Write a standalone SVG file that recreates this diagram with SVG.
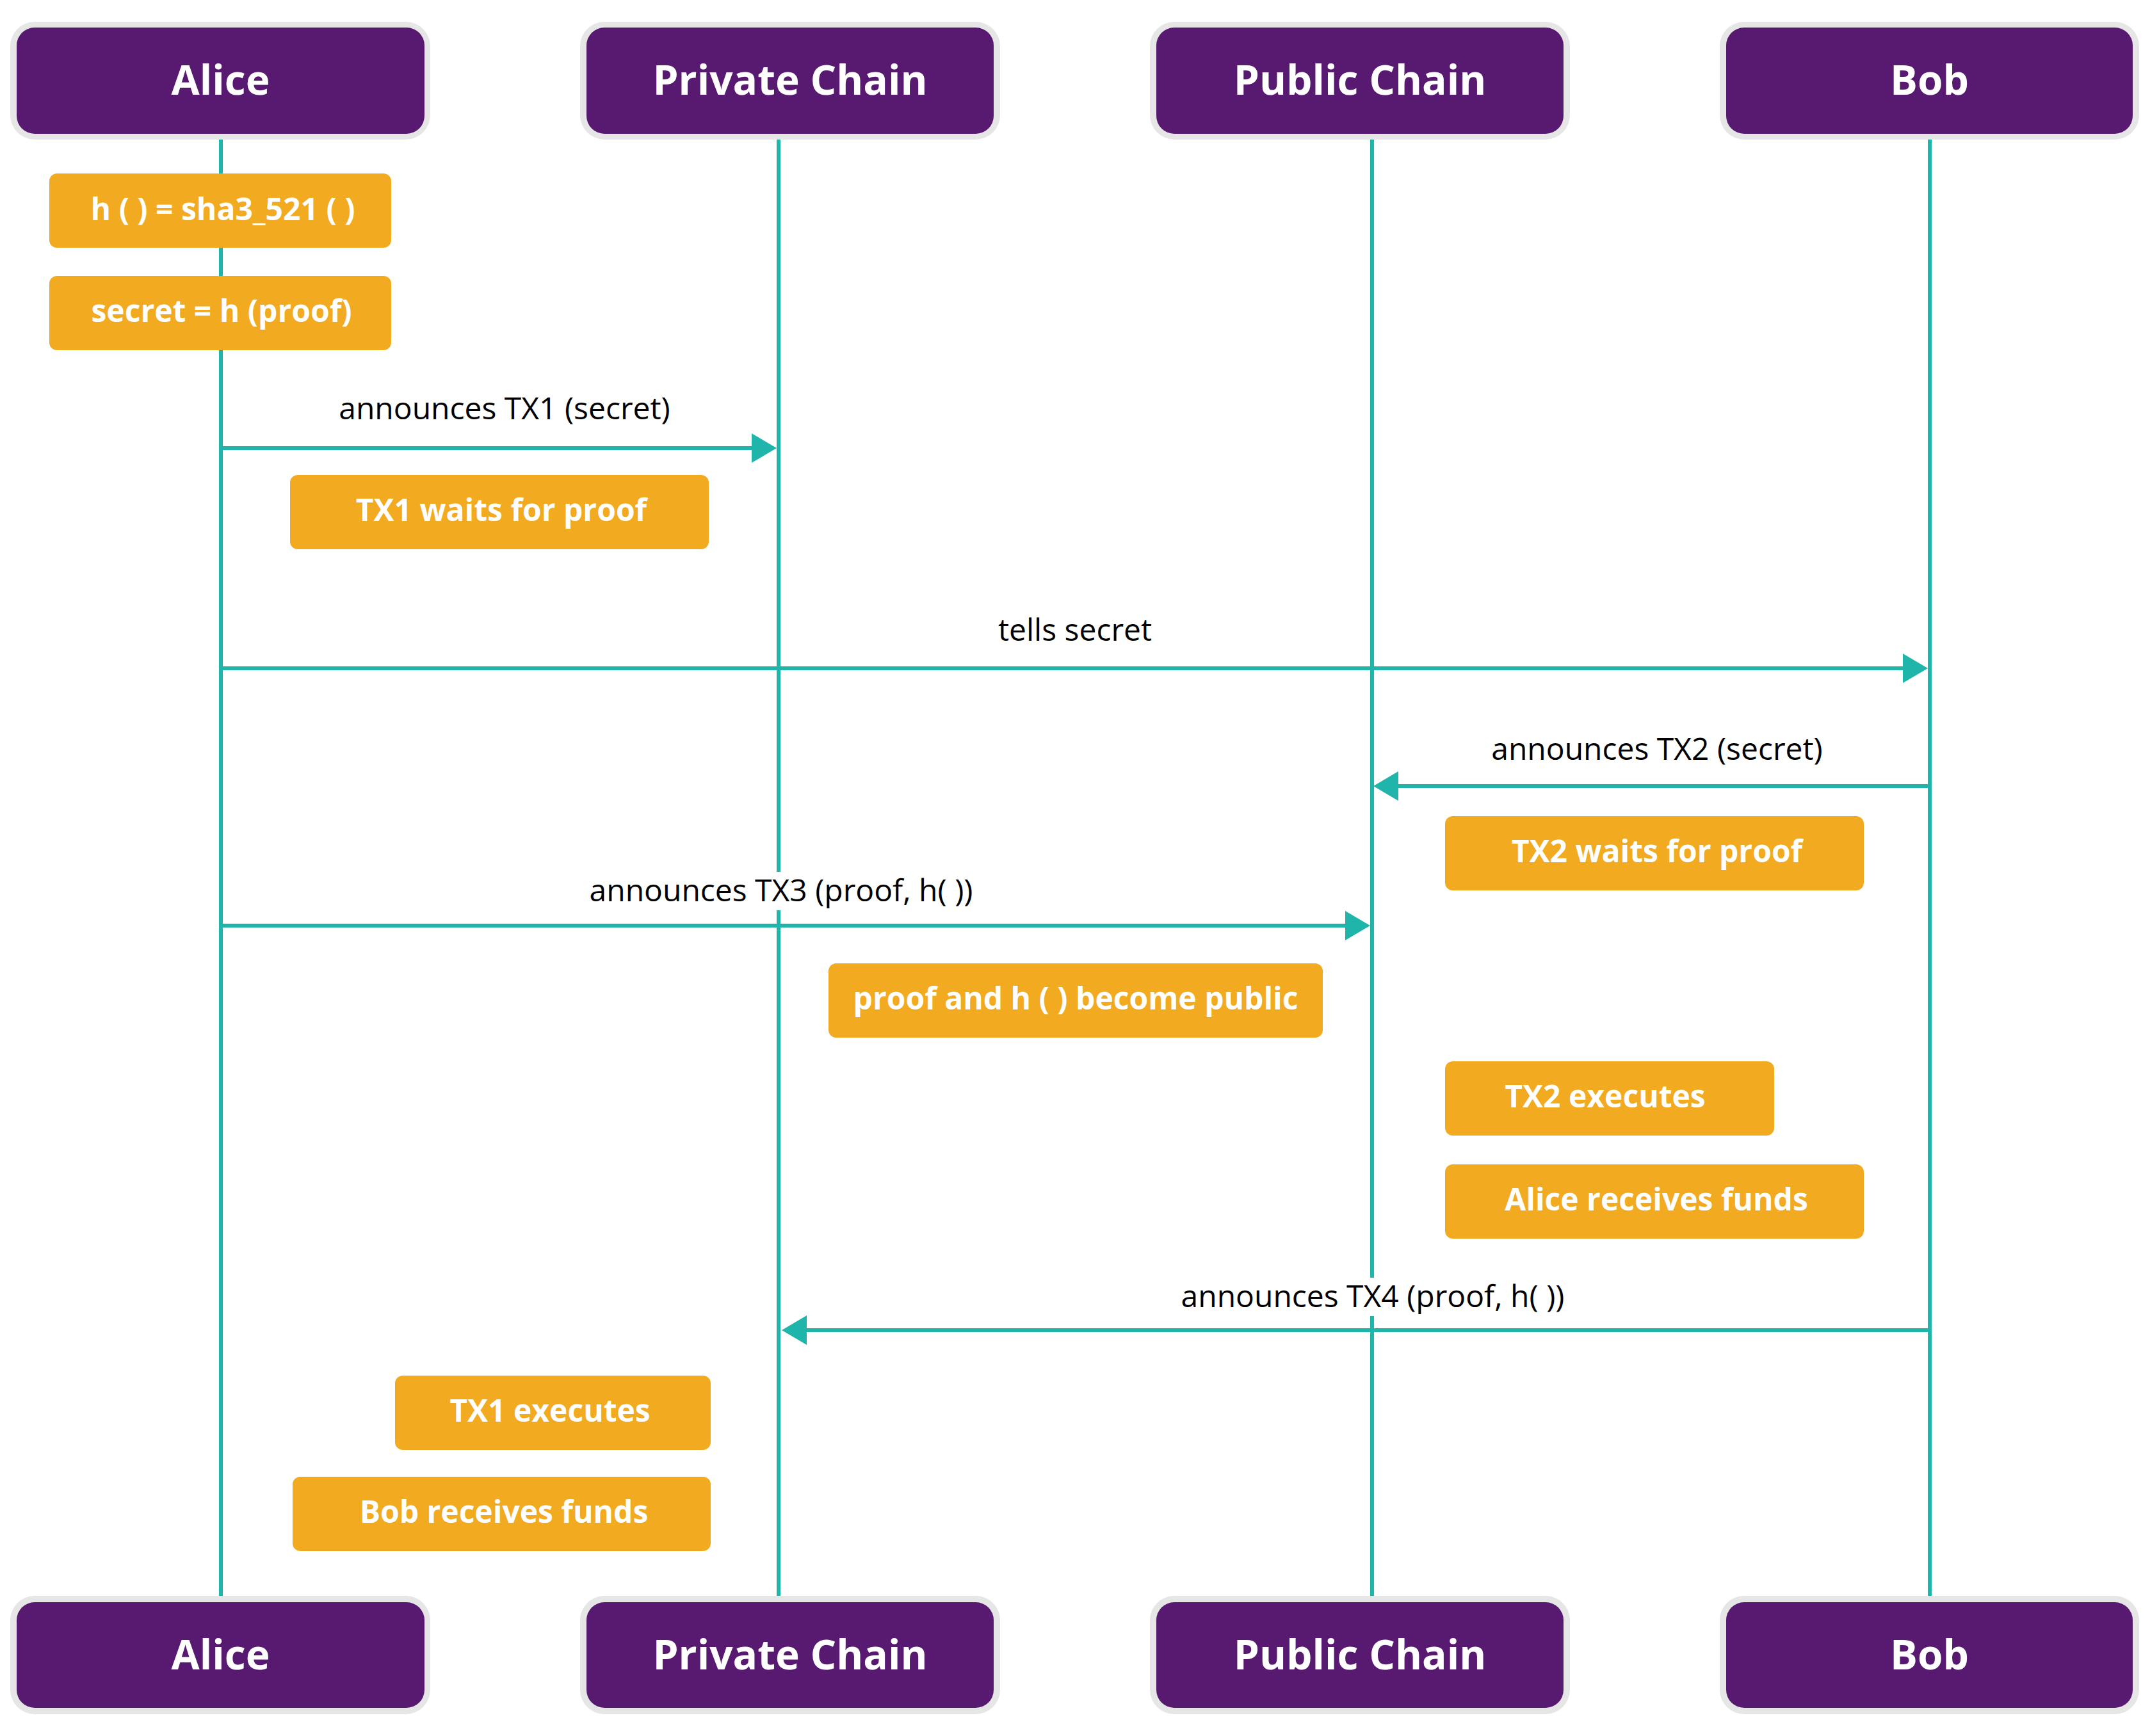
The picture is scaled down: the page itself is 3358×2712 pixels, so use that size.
<svg xmlns="http://www.w3.org/2000/svg" width="3358" height="2712" viewBox="0 0 3358 2712">
<defs>
<style>
.hdr-out{fill:#e6e6e6}
.hdr-in{fill:#581a70}
.hdr-txt{font-family:"Open Sans","Liberation Sans",sans-serif;font-weight:700;font-size:64px;fill:#ffffff;text-anchor:middle}
.note{fill:#f2aa20}
.note-txt{font-family:"Open Sans","Liberation Sans",sans-serif;font-weight:700;font-size:48px;fill:#ffffff;text-anchor:middle}
.life{stroke:#20b5aa;stroke-width:6;fill:none}
.msg{stroke:#20b5aa;stroke-width:6;fill:none;marker-end:url(#arrow)}
.lbl-bg{fill:#ffffff}
.lbl{font-family:"Open Sans","Liberation Sans",sans-serif;font-size:48px;fill:#000000;text-anchor:middle}
</style>
<marker id="arrow" markerUnits="userSpaceOnUse" markerWidth="39" markerHeight="46" refX="0" refY="23" orient="auto" overflow="visible">
<path d="M0,0 L39,23 L0,46 Z" fill="#20b5aa"/>
</marker>
</defs>
<rect x="0" y="0" width="3358" height="2712" fill="#ffffff"/>

<g id="connectors">
<g id="lifelines">
<line class="life" x1="345" y1="218" x2="345" y2="2493"/>
<line class="life" x1="1216" y1="218" x2="1216" y2="2493"/>
<line class="life" x1="2143" y1="218" x2="2143" y2="2493"/>
<line class="life" x1="3014" y1="218" x2="3014" y2="2493"/>
</g>
<g id="msg1">
<line class="msg" x1="345" y1="700" x2="1174" y2="700"/>
<rect class="lbl-bg" x="520" y="609" width="536" height="60"/>
<text class="lbl" x="788" y="655">announces TX1 (secret)</text>
</g>
<g id="msg2">
<line class="msg" x1="345" y1="1044" x2="2972" y2="1044"/>
<rect class="lbl-bg" x="1550" y="955" width="258" height="60"/>
<text class="lbl" x="1679" y="1001">tells secret</text>
</g>
<g id="msg3">
<line class="msg" x1="3014" y1="1228" x2="2184" y2="1228"/>
<rect class="lbl-bg" x="2320" y="1141" width="536" height="60"/>
<text class="lbl" x="2588" y="1187">announces TX2 (secret)</text>
</g>
<g id="msg4">
<line class="msg" x1="345" y1="1446" x2="2101" y2="1446"/>
<rect class="lbl-bg" x="911" y="1362" width="618" height="60"/>
<text class="lbl" x="1220" y="1408">announces TX3 (proof, h( ))</text>
</g>
<g id="msg5">
<line class="msg" x1="3014" y1="2078" x2="1260" y2="2078"/>
<rect class="lbl-bg" x="1835" y="1996" width="618" height="60"/>
<text class="lbl" x="2144" y="2042">announces TX4 (proof, h( ))</text>
</g>
</g>

<g id="note1"><rect class="note" x="77" y="271" width="534" height="116" rx="12"/><text class="note-txt" x="348" y="344">h ( ) = sha3_521 ( )</text></g>
<g id="note2"><rect class="note" x="77" y="431" width="534" height="116" rx="12"/><text class="note-txt" x="346" y="503">secret = h (proof)</text></g>
<g id="note3"><rect class="note" x="453" y="742" width="654" height="116" rx="12"/><text class="note-txt" x="783" y="814">TX1 waits for proof</text></g>
<g id="note4"><rect class="note" x="2257" y="1275" width="654" height="116" rx="12"/><text class="note-txt" x="2588" y="1347">TX2 waits for proof</text></g>
<g id="note5"><rect class="note" x="1294" y="1505" width="772" height="116" rx="12"/><text class="note-txt" x="1680" y="1577">proof and h ( ) become public</text></g>
<g id="note6"><rect class="note" x="2257" y="1658" width="514" height="116" rx="12"/><text class="note-txt" x="2507" y="1730">TX2 executes</text></g>
<g id="note7"><rect class="note" x="2257" y="1819" width="654" height="116" rx="12"/><text class="note-txt" x="2587" y="1891">Alice receives funds</text></g>
<g id="note8"><rect class="note" x="617" y="2149" width="493" height="116" rx="12"/><text class="note-txt" x="859" y="2221">TX1 executes</text></g>
<g id="note9"><rect class="note" x="457" y="2307" width="653" height="116" rx="12"/><text class="note-txt" x="787" y="2379">Bob receives funds</text></g>

<g id="alice-top"><rect class="hdr-out" x="16" y="34" width="656" height="184" rx="38"/><rect class="hdr-in" x="26" y="43" width="637" height="166" rx="28"/><text class="hdr-txt" x="344.5" y="148">Alice</text></g>
<g id="private-top"><rect class="hdr-out" x="906" y="34" width="656" height="184" rx="38"/><rect class="hdr-in" x="916" y="43" width="636" height="166" rx="28"/><text class="hdr-txt" x="1234" y="148">Private Chain</text></g>
<g id="public-top"><rect class="hdr-out" x="1796" y="34" width="656" height="184" rx="38"/><rect class="hdr-in" x="1806" y="43" width="636" height="166" rx="28"/><text class="hdr-txt" x="2124" y="148">Public Chain</text></g>
<g id="bob-top"><rect class="hdr-out" x="2686" y="34" width="655" height="184" rx="38"/><rect class="hdr-in" x="2696" y="43" width="635" height="166" rx="28"/><text class="hdr-txt" x="3013.5" y="148">Bob</text></g>

<g id="alice-bottom"><rect class="hdr-out" x="16" y="2493" width="656" height="185" rx="38"/><rect class="hdr-in" x="26" y="2503" width="637" height="165" rx="28"/><text class="hdr-txt" x="344.5" y="2608">Alice</text></g>
<g id="private-bottom"><rect class="hdr-out" x="906" y="2493" width="656" height="185" rx="38"/><rect class="hdr-in" x="916" y="2503" width="636" height="165" rx="28"/><text class="hdr-txt" x="1234" y="2608">Private Chain</text></g>
<g id="public-bottom"><rect class="hdr-out" x="1796" y="2493" width="656" height="185" rx="38"/><rect class="hdr-in" x="1806" y="2503" width="636" height="165" rx="28"/><text class="hdr-txt" x="2124" y="2608">Public Chain</text></g>
<g id="bob-bottom"><rect class="hdr-out" x="2686" y="2493" width="655" height="185" rx="38"/><rect class="hdr-in" x="2696" y="2503" width="635" height="165" rx="28"/><text class="hdr-txt" x="3013.5" y="2608">Bob</text></g>
</svg>
